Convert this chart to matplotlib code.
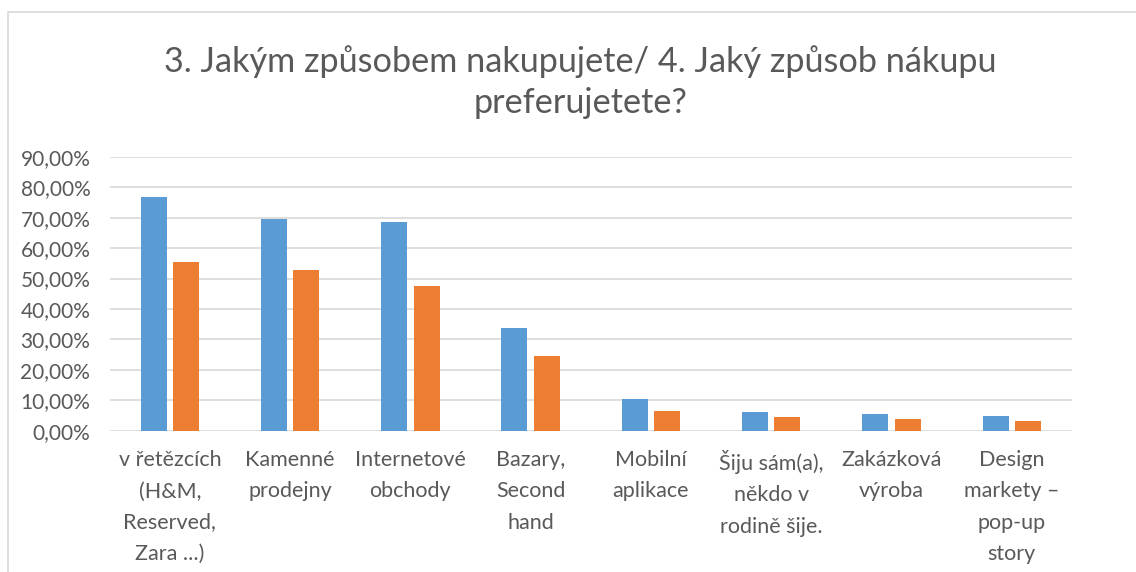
import matplotlib.pyplot as plt
import numpy as np
from matplotlib.patches import Rectangle
from matplotlib.ticker import FuncFormatter

plt.rcParams['font.family'] = ['Lato', 'DejaVu Sans']

categories = [
    "v řetězcích\n(H&M,\nReserved,\nZara ...)",
    "Kamenné\nprodejny",
    "Internetové\nobchody",
    "Bazary,\nSecond\nhand",
    "Mobilní\naplikace",
    "Šiju sám(a),\nněkdo v\nrodině šije.",
    "Zakázková\nvýroba",
    "Design\nmarkety –\npop-up\nstory",
]
nakupujete = [0.769, 0.695, 0.686, 0.336, 0.104, 0.062, 0.055, 0.047]
preferujete = [0.555, 0.528, 0.476, 0.245, 0.065, 0.046, 0.038, 0.033]
title = "3. Jakým způsobem nakupujete/ 4. Jaký způsob nákupu\npreferujetete?"

text_color = '#595959'
blue = '#5B9BD5'
orange = '#ED7D31'

fig = plt.figure(figsize=(11.36, 5.72), dpi=100)
ax = fig.add_axes([0.0966, 0.247, 0.847, 0.479])

x = np.arange(len(categories))
w = 0.216
ax.bar(x - 0.135, nakupujete, width=w, color=blue, zorder=3)
ax.bar(x + 0.135, preferujete, width=w, color=orange, zorder=3)

ax.set_xlim(-0.5, len(categories) - 0.5)
ax.set_ylim(0, 0.9)
ax.set_yticks(np.arange(0, 0.91, 0.1))
ax.yaxis.set_major_formatter(FuncFormatter(lambda v, _: f"{v * 100:.2f}%".replace('.', ',')))
ax.grid(axis='y', color='#d9d9d9', linewidth=1.2, zorder=0)
for s in ax.spines.values():
    s.set_visible(False)
ax.tick_params(axis='both', length=0, colors=text_color)
ax.tick_params(axis='y', pad=14, labelsize=15)
ax.set_xticks(x)
ax.set_xticklabels(categories, linespacing=1.7, fontsize=15.5)
ax.tick_params(axis='x', pad=14)

fig.text(0.511, 0.857, title, ha='center', va='center', fontsize=24.7,
         color=text_color, linespacing=1.35)

# chart frame
fig.patches.append(Rectangle((8 / 1136, -0.1), 1.2, 1 - 12 / 572 + 0.1,
                             transform=fig.transFigure, fill=False,
                             edgecolor='#d9d9d9', linewidth=1.2))

fig.savefig('out.png', dpi=100)
